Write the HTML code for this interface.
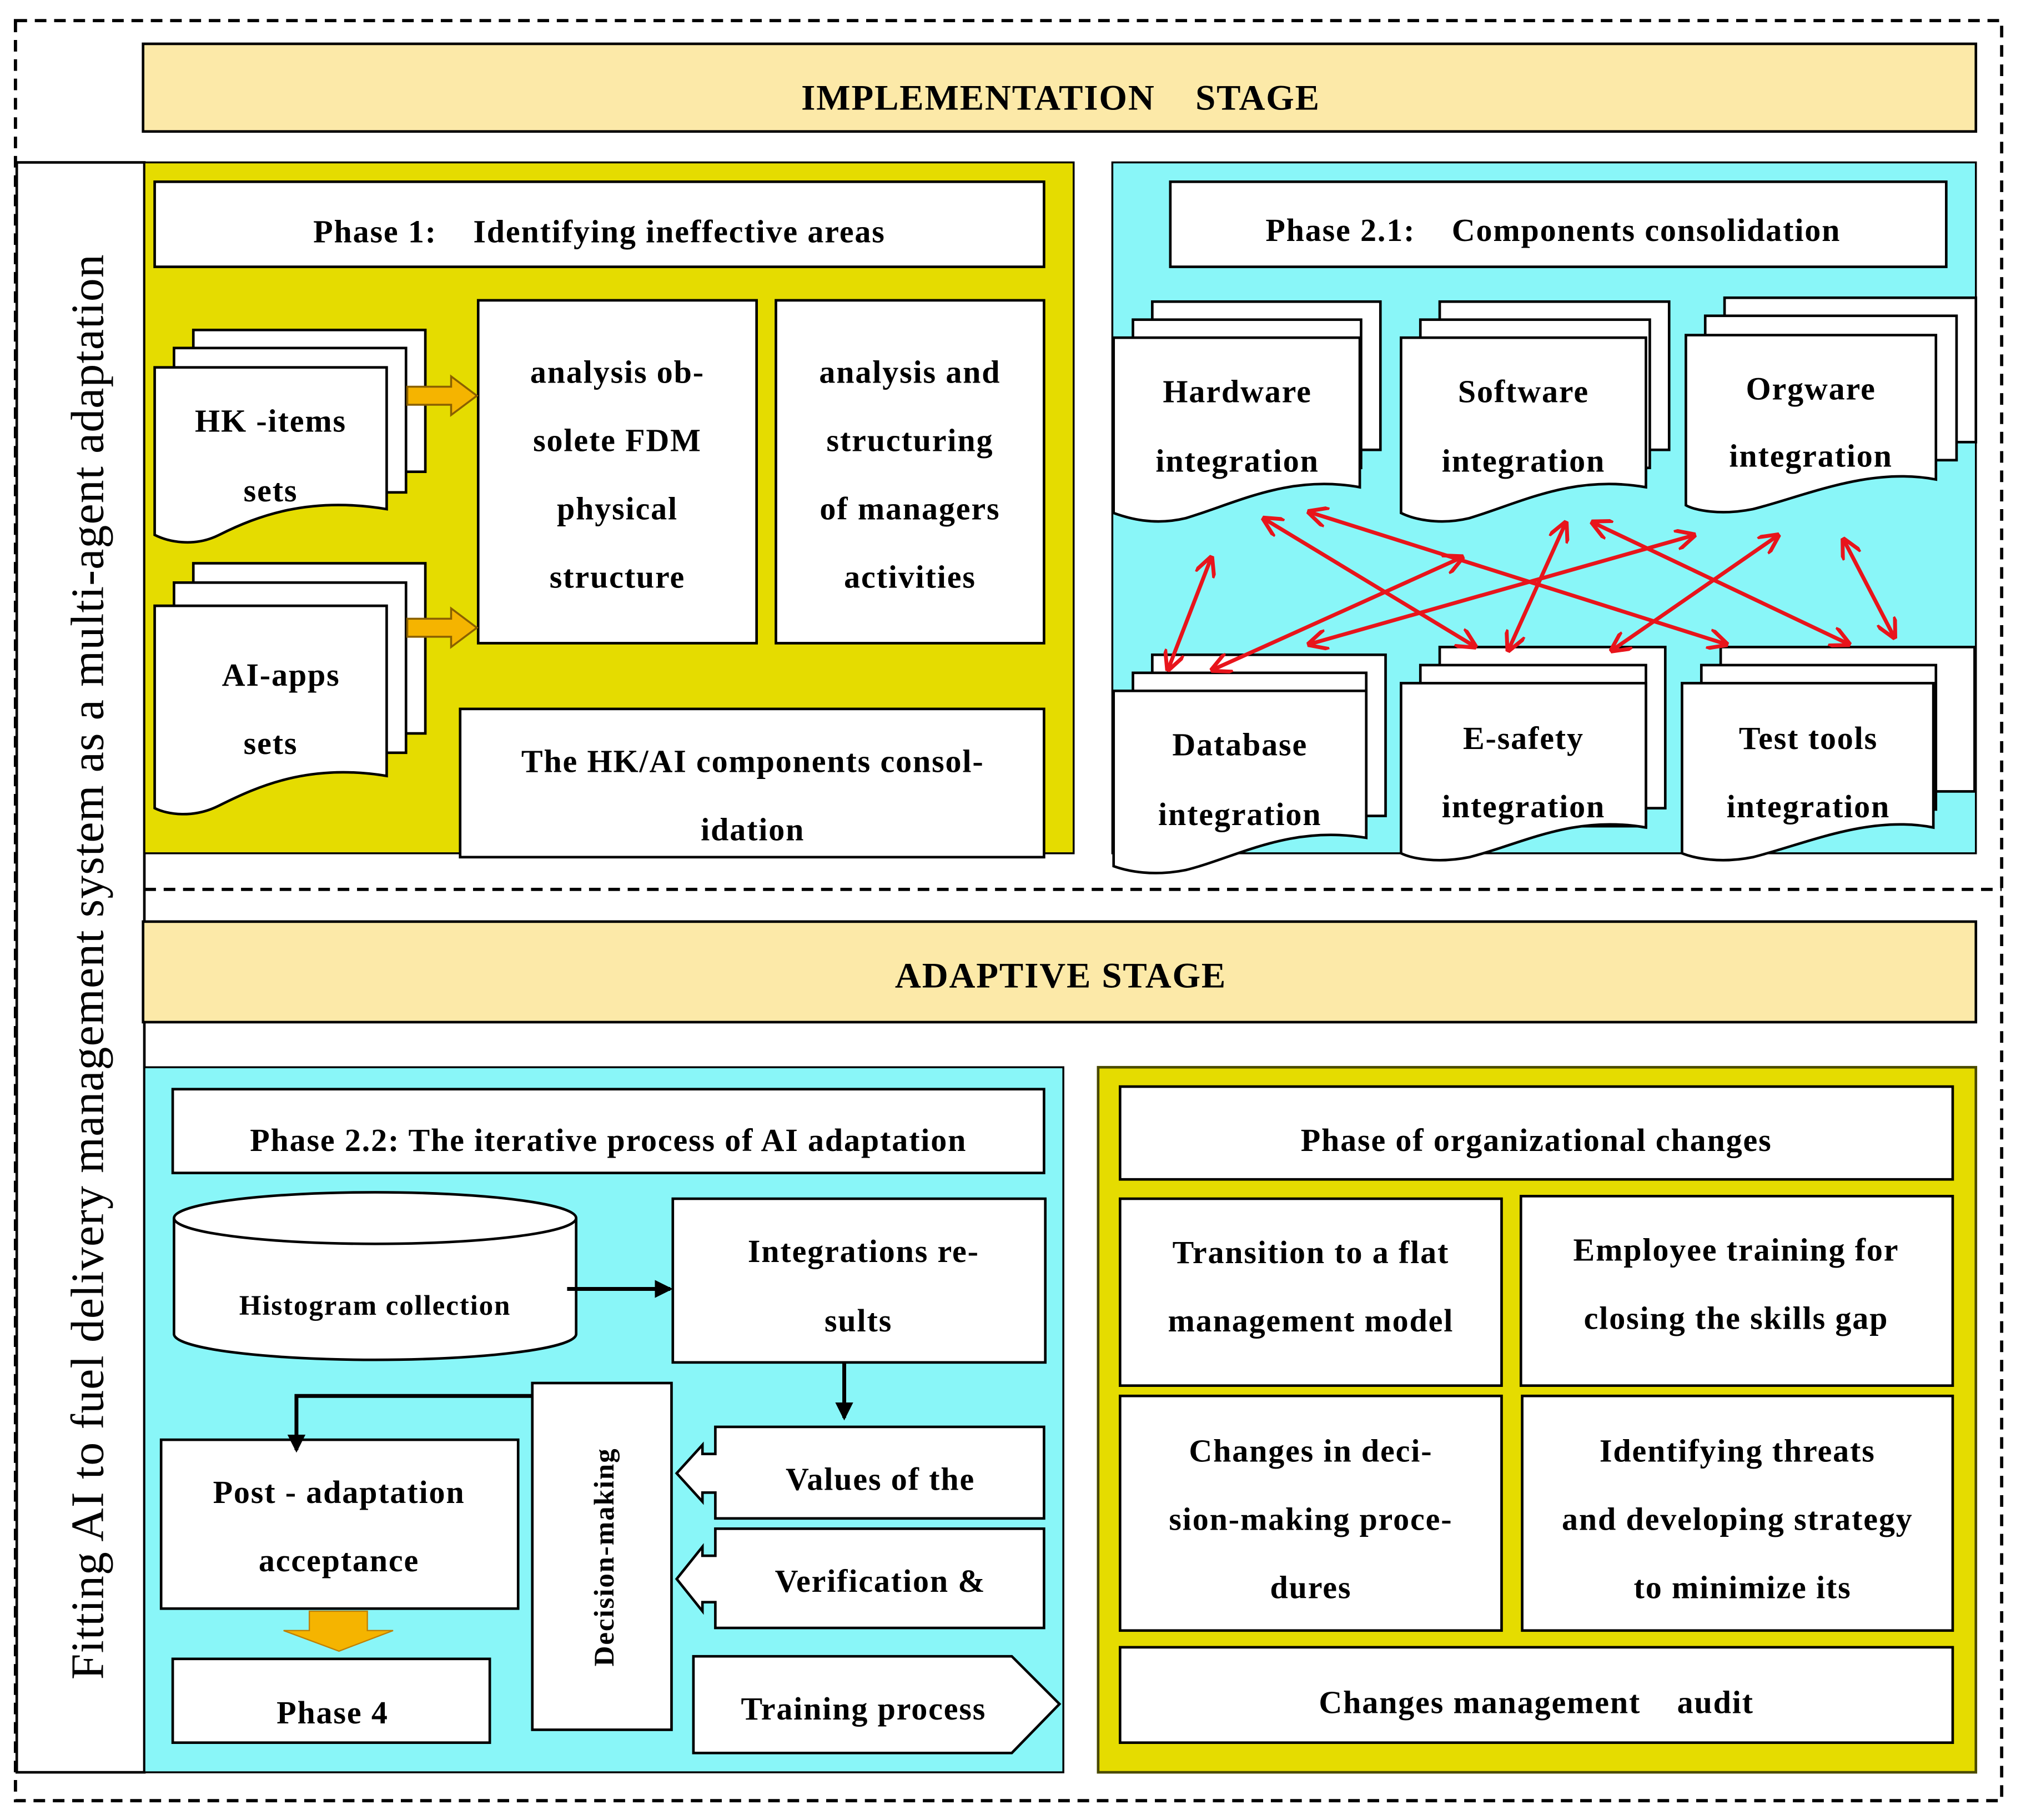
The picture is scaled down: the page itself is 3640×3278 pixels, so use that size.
<!DOCTYPE html>
<html><head><meta charset="utf-8"><style>html,body{margin:0;padding:0;background:#fff}svg{display:block}text{font-family:"Liberation Serif",serif;font-weight:bold;fill:#000;white-space:pre;letter-spacing:0.8px}</style></head><body>
<svg width="3640" height="3278" viewBox="0 0 1568 1412" preserveAspectRatio="none" xmlns="http://www.w3.org/2000/svg" xml:space="preserve">
<defs>
<marker id="ra" markerWidth="16" markerHeight="16" refX="15" refY="8" orient="auto-start-reverse" markerUnits="userSpaceOnUse"><path d="M0,0 L16,8 L0,16" fill="none" stroke="#e8141b" stroke-width="3"/></marker>
<marker id="ba" markerWidth="14" markerHeight="14" refX="12" refY="7" orient="auto" markerUnits="userSpaceOnUse"><path d="M0,0 L14,7 L0,14 z" fill="#000"/></marker>
</defs>
<rect x="12" y="16" width="1541" height="1381" fill="none" stroke="#000" stroke-width="2.5" stroke-dasharray="9,6"/>
<line x1="112" y1="690" x2="1553" y2="690" stroke="#000" stroke-width="2.5" stroke-dasharray="9,6"/>
<rect x="13" y="126" width="99" height="1249" fill="#fff" stroke="#000" stroke-width="2"/>
<text transform="translate(80,750) rotate(-90)" text-anchor="middle" font-size="36" style="font-weight:normal;letter-spacing:0.5px">Fitting AI to fuel delivery management system as a multi-agent adaptation</text>

<rect x="111" y="34" width="1422" height="68" fill="#fce9a8" stroke="#000" stroke-width="2"/>
<text x="823" y="85" text-anchor="middle" font-size="28">IMPLEMENTATION    STAGE</text>

<rect x="112" y="126" width="721" height="536" fill="#e5dc00" stroke="#000" stroke-width="1.5"/>
<rect x="120" y="141" width="690" height="66" fill="#fff" stroke="#000" stroke-width="2"/>
<text x="465" y="188" text-anchor="middle" font-size="25">Phase 1:    Identifying ineffective areas</text>
<g fill="#fff" stroke="#000" stroke-width="2">
<rect x="150" y="256" width="180" height="110"/><rect x="135" y="270" width="180" height="112"/>
<path d="M120,285 H300 V395 C240,385 200,400 170,415 C150,425 130,420 120,415 Z"/>
<rect x="150" y="437" width="180" height="132"/><rect x="135" y="452" width="180" height="132"/>
<path d="M120,470 H300 V602 C240,592 200,610 170,625 C150,635 130,632 120,627 Z"/>
<rect x="371" y="233" width="216" height="266"/>
<rect x="602" y="233" width="208" height="266"/>
<rect x="357" y="550" width="453" height="115"/>
</g>
<text x="210" y="335" text-anchor="middle" font-size="25">HK -items</text>
<text x="210" y="389" text-anchor="middle" font-size="25">sets</text>
<text x="218" y="532" text-anchor="middle" font-size="25">AI-apps</text>
<text x="210" y="585" text-anchor="middle" font-size="25">sets</text>
<g fill="#f5b400" stroke="#8a6000" stroke-width="1.5">
<path d="M316,300 H350 V292 L370,307 L350,322 V314 H316 Z"/>
<path d="M316,480 H350 V472 L370,487 L350,502 V494 H316 Z"/>
</g>
<g font-size="25" text-anchor="middle">
<text x="479" y="297">analysis ob-</text><text x="479" y="350">solete FDM</text><text x="479" y="403">physical</text><text x="479" y="456">structure</text>
<text x="706" y="297">analysis and</text><text x="706" y="350">structuring</text><text x="706" y="403">of managers</text><text x="706" y="456">activities</text>
<text x="584" y="599">The HK/AI components consol-</text><text x="584" y="652">idation</text>
</g>

<rect x="863" y="126" width="670" height="536" fill="#89f6f8" stroke="#000" stroke-width="1.5"/>
<rect x="908" y="141" width="602" height="66" fill="#fff" stroke="#000" stroke-width="2"/>
<text x="1205" y="187" text-anchor="middle" font-size="25">Phase 2.1:    Components consolidation</text>
<g fill="#fff" stroke="#000" stroke-width="2">
<rect x="894" y="234" width="177" height="115"/><rect x="879" y="248" width="177" height="115"/>
<path d="M864,262 H1055 V378 C1000,368 960,390 920,402 C895,408 875,402 864,398 Z"/>
<rect x="1117" y="234" width="178" height="115"/><rect x="1102" y="248" width="178" height="115"/>
<path d="M1087,262 H1277 V378 C1220,368 1180,390 1140,402 C1115,408 1095,402 1087,398 Z"/>
<rect x="1338" y="231" width="195" height="112"/><rect x="1323" y="245" width="195" height="112"/>
<path d="M1308,260 H1502 V372 C1450,362 1400,385 1360,395 C1335,400 1315,396 1308,392 Z"/>
<rect x="894" y="508" width="181" height="125"/><rect x="879" y="522" width="181" height="125"/>
<path d="M864,536 H1060 V650 C1000,640 960,665 920,675 C895,680 875,676 864,672 Z"/>
<rect x="1117" y="502" width="175" height="125"/><rect x="1102" y="516" width="175" height="125"/>
<path d="M1087,530 H1277 V642 C1220,632 1180,655 1140,665 C1115,670 1095,666 1087,662 Z"/>
<rect x="1335" y="502" width="197" height="112"/><rect x="1320" y="516" width="182" height="112"/>
<path d="M1305,530 H1500 V642 C1450,632 1400,655 1360,665 C1335,670 1315,666 1305,662 Z"/>
</g>
<g font-size="25" text-anchor="middle">
<text x="960" y="312">Hardware</text><text x="960" y="366">integration</text>
<text x="1182" y="312">Software</text><text x="1182" y="366">integration</text>
<text x="1405" y="310">Orgware</text><text x="1405" y="362">integration</text>
<text x="962" y="586">Database</text><text x="962" y="640">integration</text>
<text x="1182" y="581">E-safety</text><text x="1182" y="634">integration</text>
<text x="1403" y="581">Test tools</text><text x="1403" y="634">integration</text>
</g>
<g stroke="#e8141b" stroke-width="3" marker-start="url(#ra)" marker-end="url(#ra)">
<line x1="940" y1="432" x2="906" y2="520"/>
<line x1="980" y1="402" x2="1145" y2="502"/>
<line x1="1015" y1="397" x2="1340" y2="500"/>
<line x1="1135" y1="432" x2="940" y2="520"/>
<line x1="1215" y1="405" x2="1170" y2="505"/>
<line x1="1235" y1="405" x2="1435" y2="500"/>
<line x1="1315" y1="415" x2="1015" y2="500"/>
<line x1="1380" y1="415" x2="1250" y2="505"/>
<line x1="1430" y1="418" x2="1470" y2="495"/>
</g>

<rect x="111" y="715" width="1422" height="78" fill="#fce9a8" stroke="#000" stroke-width="2"/>
<text x="823" y="766" text-anchor="middle" font-size="28">ADAPTIVE STAGE</text>

<rect x="112" y="828" width="713" height="547" fill="#89f6f8" stroke="#000" stroke-width="1.5"/>
<rect x="134" y="845" width="676" height="65" fill="#fff" stroke="#000" stroke-width="2"/>
<text x="472" y="893" text-anchor="middle" font-size="25">Phase 2.2: The iterative process of AI adaptation</text>
<g fill="#fff" stroke="#000" stroke-width="2">
<path d="M135,945 V1035 A156,20 0 0 0 447,1035 V945"/>
<ellipse cx="291" cy="945" rx="156" ry="20"/>
<rect x="522" y="930" width="289" height="127"/>
<rect x="413" y="1073" width="108" height="269"/>
<rect x="125" y="1117" width="277" height="131"/>
<rect x="134" y="1287" width="246" height="65"/>
<path d="M555,1107 H810 V1178 H555 V1158 H545 V1165 L525,1143 L545,1121 V1128 H555 Z"/>
<path d="M555,1186 H810 V1263 H555 V1243 H545 V1250 L525,1225 L545,1200 V1207 H555 Z"/>
<path d="M538,1285 H785 L822,1322 L785,1360 H538 Z"/>
</g>
<line x1="440" y1="1000" x2="520" y2="1000" stroke="#000" stroke-width="3" marker-end="url(#ba)"/>
<line x1="655" y1="1057" x2="655" y2="1100" stroke="#000" stroke-width="3" marker-end="url(#ba)"/>
<polyline points="413,1083 230,1083 230,1125" fill="none" stroke="#000" stroke-width="3" marker-end="url(#ba)"/>
<path d="M240,1250 H285 V1265 H305 L263,1281 L220,1265 H240 Z" fill="#f5b400" stroke="#c08000" stroke-width="1"/>
<g font-size="25" text-anchor="middle">
<text x="291" y="1020" font-size="22">Histogram collection</text>
<text x="670" y="979">Integrations re-</text><text x="666" y="1033">sults</text>
<text transform="translate(476,1208) rotate(-90)" font-size="22">Decision-making</text>
<text x="263" y="1166">Post - adaptation</text><text x="263" y="1219">acceptance</text>
<text x="258" y="1337">Phase 4</text>
<text x="683" y="1156">Values of the</text>
<text x="683" y="1235">Verification &amp;</text>
<text x="670" y="1334">Training process</text>
</g>

<rect x="852" y="828" width="681" height="547" fill="#e5dc00" stroke="#4a4a00" stroke-width="2"/>
<g fill="#fff" stroke="#000" stroke-width="2">
<rect x="869" y="843" width="646" height="72"/>
<rect x="869" y="930" width="296" height="145"/>
<rect x="1180" y="928" width="335" height="147"/>
<rect x="869" y="1083" width="296" height="182"/>
<rect x="1181" y="1083" width="334" height="182"/>
<rect x="869" y="1278" width="646" height="74"/>
</g>
<g font-size="25" text-anchor="middle">
<text x="1192" y="893">Phase of organizational changes</text>
<text x="1017" y="980">Transition to a flat</text><text x="1017" y="1033">management model</text>
<text x="1347" y="978">Employee training for</text><text x="1347" y="1031">closing the skills gap</text>
<text x="1017" y="1134">Changes in deci-</text><text x="1017" y="1187">sion-making proce-</text><text x="1017" y="1240">dures</text>
<text x="1348" y="1134">Identifying threats</text><text x="1348" y="1187">and developing strategy</text><text x="1352" y="1240">to minimize its</text>
<text x="1192" y="1329">Changes management    audit</text>
</g>
</svg>
</body></html>
